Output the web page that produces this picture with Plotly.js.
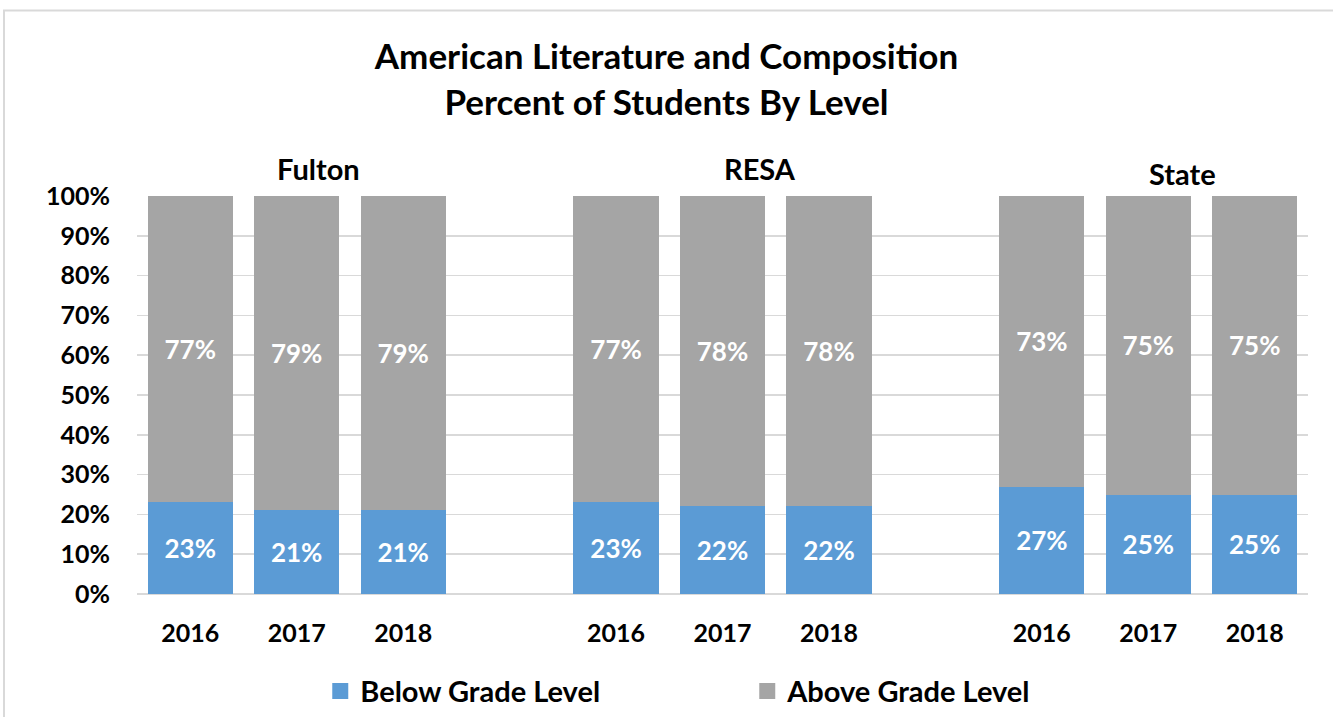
<!DOCTYPE html>
<html>
<head>
<meta charset="utf-8">
<script src="https://cdn.plot.ly/plotly-3.0.1.min.js"></script>
<style>html,body{margin:0;padding:0;background:#fff;}</style>
</head>
<body>
<div id="chart" style="width:1333px;height:717px;"></div>
<script>
// ---- data ----
const groups = ['Fulton', 'RESA', 'State'];
const years = ['2016', '2017', '2018'];
const belowGrade = [23, 21, 21, 23, 22, 22, 27, 25, 25];
const aboveGrade = [77, 79, 79, 77, 78, 78, 73, 75, 75];
const seriesNames = ['Below Grade Level', 'Above Grade Level'];
const titleLines = ['American Literature and Composition', 'Percent of Students By Level'];

// ---- category ids (group|year) with spacer slots between groups ----
const xIds = [];
const tickText = [];
groups.forEach(g => years.forEach(y => { xIds.push(g + '|' + y); tickText.push(y); }));
const catArray = [];
groups.forEach((g, gi) => {
  years.forEach(y => catArray.push(g + '|' + y));
  if (gi < groups.length - 1) catArray.push('gap' + gi);
});

const FONT = 'Lato, "Open Sans", sans-serif';
const BLUE = '#5B9BD5';
const GRAY = '#A5A5A5';

const labelFont = {family: FONT, size: 26, color: '#ffffff', weight: 'bold'};

const traces = [
  {
    type: 'bar', name: seriesNames[0], x: xIds, y: belowGrade,
    marker: {color: BLUE}, text: belowGrade.map(v => v + '%'),
    textposition: 'inside', insidetextanchor: 'middle', textangle: 0,
    textfont: labelFont, showlegend: false, hoverinfo: 'skip'
  },
  {
    type: 'bar', name: seriesNames[1], x: xIds, y: aboveGrade,
    marker: {color: GRAY}, text: aboveGrade.map(v => v + '%'),
    textposition: 'inside', insidetextanchor: 'middle', textangle: 0,
    textfont: labelFont, showlegend: false, hoverinfo: 'skip'
  },
  // legend entries (square swatches)
  {type: 'scatter', mode: 'markers', name: seriesNames[0], x: [null], y: [null],
   marker: {symbol: 'square', size: 16, color: BLUE}, showlegend: true},
  {type: 'scatter', mode: 'markers', name: seriesNames[1], x: [null], y: [null],
   marker: {symbol: 'square', size: 16, color: GRAY}, showlegend: true}
];

const groupAnn = [
  {text: groups[0], x: 0.1546, y: 1.069},
  {text: groups[1], x: 0.532, y: 1.069},
  {text: groups[2], x: 0.8924, y: 1.057}
].map(a => ({
  text: a.text, x: a.x, y: a.y, xref: 'paper', yref: 'paper',
  xanchor: 'center', yanchor: 'middle', showarrow: false,
  font: {family: FONT, size: 29, color: '#000', weight: 'bold'}
}));

const layout = {
  width: 1333, height: 717,
  paper_bgcolor: '#ffffff', plot_bgcolor: '#ffffff',
  margin: {l: 137, r: 25, t: 196, b: 123, autoexpand: false},
  barmode: 'stack', bargap: 0.2,
  title: {
    text: titleLines.join('<br>'),
    font: {family: FONT, size: 35, color: '#000', weight: 'bold'},
    x: 0.5, xref: 'container', xanchor: 'center',
    y: 1 - 69 / 717, yref: 'container', yanchor: 'middle'
  },
  xaxis: {
    type: 'category', categoryorder: 'array', categoryarray: catArray,
    tickmode: 'array', tickvals: xIds, ticktext: tickText,
    showgrid: false, showline: false, zeroline: false, ticks: '',
    ticklabelstandoff: 22,
    tickfont: {family: FONT, size: 25, color: '#000', weight: 'bold'},
    range: [-0.5, catArray.length - 0.5], fixedrange: true
  },
  yaxis: {
    range: [0, 100], dtick: 10, tick0: 0, ticksuffix: '%',
    showgrid: true, gridcolor: '#D9D9D9', gridwidth: 1.5,
    zeroline: true, zerolinecolor: '#D9D9D9', zerolinewidth: 1.5,
    showline: false, ticks: '', ticklabelstandoff: 26,
    tickfont: {family: FONT, size: 25, color: '#000', weight: 'bold'},
    fixedrange: true
  },
  legend: {
    orientation: 'h', x: 0.1565, xanchor: 'left', y: -0.18, yanchor: 'top',
    font: {family: FONT, size: 29, color: '#000', weight: 'bold'},
    entrywidth: 382, entrywidthmode: 'pixels', itemsizing: 'trace',
    traceorder: 'normal', bgcolor: 'rgba(0,0,0,0)'
  },
  annotations: groupAnn,
  shapes: [{
    type: 'rect', xref: 'paper', yref: 'paper',
    x0: (4 - 137) / 1171, x1: (1360 - 137) / 1171,
    y0: (593.7 - 740) / 398.2, y1: (593.7 - 10) / 398.2,
    line: {color: '#D9D9D9', width: 2}, fillcolor: 'rgba(0,0,0,0)', layer: 'below'
  }],
  showlegend: true
};

Plotly.newPlot('chart', traces, layout, {displayModeBar: false, staticPlot: true});
</script>
</body>
</html>
